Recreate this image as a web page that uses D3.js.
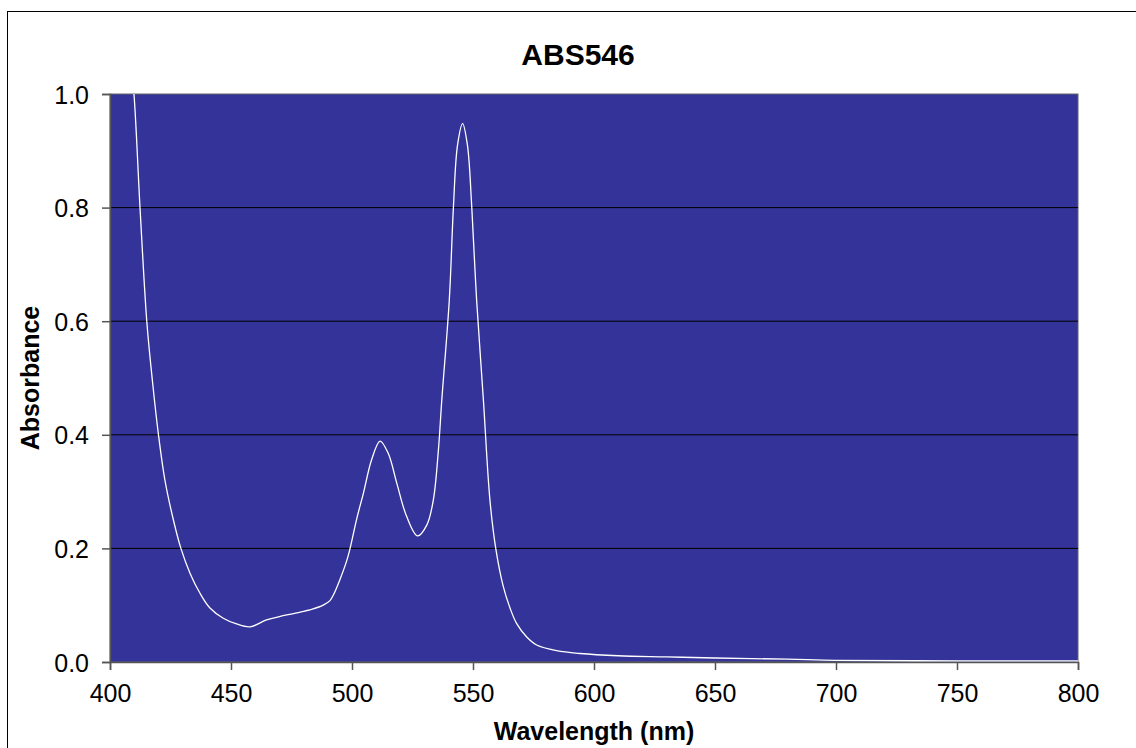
<!DOCTYPE html>
<html>
<head>
<meta charset="utf-8">
<script src="https://cdn.jsdelivr.net/npm/d3@7"></script>
<style>
  body { margin: 0; background: #fff; }
  text { font-family: "Liberation Sans", Arial, sans-serif; fill: #000; }
</style>
</head>
<body>
<div id="chart"></div>
<script>
// spectrum
const wavelengths = [408, 409.9, 412.4, 415.2, 417.5, 420, 422.7, 426.2, 429.3, 433.1, 437.2, 441.3, 446.8, 452.3, 457.9,
  464.7, 470, 476.7, 483.6, 488.1, 490.9, 492.3, 495, 497.8, 499.2, 502, 504.7, 508.1, 511.6, 515, 518.5, 522.6, 527.1,
  530.9, 533.6, 535.7, 537.1, 540.2, 541.9, 543.6, 545.7, 547.7, 549.5, 551.5, 554.3, 557, 559.4, 562.5, 565.3, 568,
  572.2, 576.3, 584.6, 594.2, 610, 630, 650, 680, 700, 750, 800];
const absorbance = [1.08, 1.0, 0.8, 0.6, 0.496, 0.401, 0.32, 0.25, 0.2, 0.156, 0.121, 0.095, 0.077, 0.067, 0.062,
  0.074, 0.08, 0.086, 0.093, 0.1, 0.108, 0.118, 0.145, 0.178, 0.2, 0.253, 0.297, 0.356, 0.389, 0.367, 0.315, 0.256, 0.222,
  0.241, 0.285, 0.373, 0.461, 0.637, 0.8, 0.91, 0.948, 0.91, 0.8, 0.637, 0.461, 0.285, 0.2, 0.133, 0.095, 0.068,
  0.044, 0.03, 0.02, 0.015, 0.011, 0.009, 0.007, 0.005, 0.003, 0.002, 0.002];
const xTicks = [400, 450, 500, 550, 600, 650, 700, 750, 800];
const yTicks = [0, 0.2, 0.4, 0.6, 0.8, 1.0];

let width = 1136,
    height = 748,
    plotLeft = 110, plotTop = 94, plotRight = 1078, plotBottom = 662;

let svg = d3.select("#chart")
    .append("svg")
    .attr("width", width)
    .attr("height", height);

// outer chart border
svg.append("rect")
    .attr("x", 7.5).attr("y", 11.5)
    .attr("width", 1140).attr("height", 760)
    .attr("fill", "none").attr("stroke", "#000");

let xScale = d3.scaleLinear().domain([400, 800]).range([plotLeft, plotRight]);
let yScale = d3.scaleLinear().domain([0, 1]).range([plotBottom, plotTop]);

svg.append("rect")
    .attr("x", plotLeft).attr("y", plotTop)
    .attr("width", plotRight - plotLeft).attr("height", plotBottom - plotTop)
    .attr("fill", "#333399")
    .attr("stroke", "#666").attr("stroke-width", 1);

// gridlines
svg.append("g")
    .selectAll("line")
    .data(yTicks.filter(d => d > 0 && d < 1))
    .enter()
    .append("line")
    .attr("x1", plotLeft).attr("x2", plotRight)
    .attr("y1", d => yScale(d)).attr("y2", d => yScale(d))
    .attr("stroke", "#000").attr("stroke-width", 1);

let xAxis = d3.axisBottom(xScale).tickValues(xTicks).tickFormat(d3.format("d"))
    .tickSize(8).tickPadding(14);
let gx = svg.append("g")
    .attr("transform", `translate(0, ${plotBottom})`)
    .call(xAxis);

let yAxis = d3.axisLeft(yScale).tickValues(yTicks).tickFormat(d3.format(".1f"))
    .tickSize(8).tickPadding(13);
let gy = svg.append("g")
    .attr("transform", `translate(${plotLeft}, 0)`)
    .call(yAxis);

[gx, gy].forEach(g => {
    g.select(".domain").attr("stroke", "#555").attr("stroke-width", 1.5);
    g.selectAll(".tick line").attr("stroke", "#555").attr("stroke-width", 1.5);
    g.selectAll(".tick text")
        .attr("fill", "#000")
        .style("font-size", "25px")
        .style("font-family", "Liberation Sans, Arial, sans-serif");
});
gy.selectAll(".tick text").attr("dy", "0.36em");

svg.append("clipPath").attr("id", "plotClip")
    .append("rect")
    .attr("x", plotLeft).attr("y", plotTop)
    .attr("width", plotRight - plotLeft).attr("height", plotBottom - plotTop);

let points = wavelengths.map((w, i) => [w, absorbance[i]]);
let line = d3.line()
    .x(d => xScale(d[0]))
    .y(d => yScale(d[1]))
    .curve(d3.curveCatmullRom.alpha(0.5));

svg.append("path")
    .datum(points)
    .attr("clip-path", "url(#plotClip)")
    .attr("d", line)
    .attr("fill", "none")
    .attr("stroke", "#fff")
    .attr("stroke-width", 1.3);

// titles
svg.append("text")
    .attr("x", 578).attr("y", 65)
    .attr("text-anchor", "middle")
    .style("font-size", "30px").style("font-weight", "bold")
    .text("ABS546");

svg.append("text")
    .attr("x", 594).attr("y", 740)
    .attr("text-anchor", "middle")
    .style("font-size", "25px").style("font-weight", "bold")
    .text("Wavelength (nm)");

svg.append("text")
    .attr("transform", "rotate(-90)")
    .attr("x", -378).attr("y", 39)
    .attr("text-anchor", "middle")
    .style("font-size", "25px").style("font-weight", "bold")
    .text("Absorbance");
</script>
</body>
</html>
